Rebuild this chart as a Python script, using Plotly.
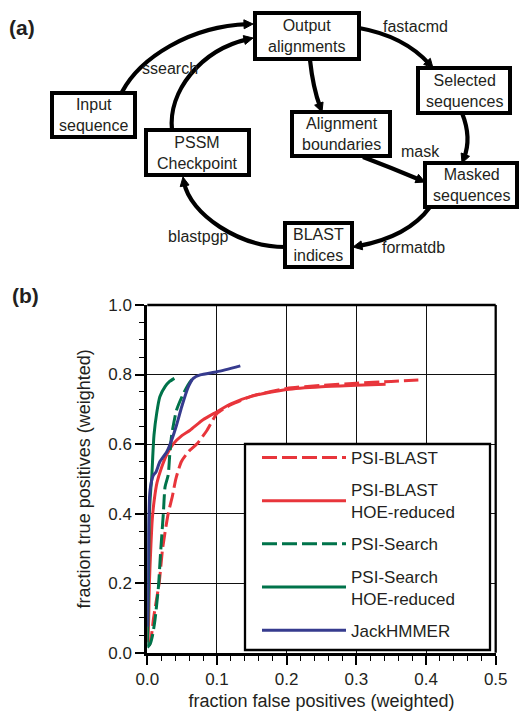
import plotly.graph_objects as go

W, H = 519, 712

# ---------------- data (panel b) ----------------
series_names = ["PSI-BLAST", "PSI-BLAST<br>HOE-reduced", "PSI-Search",
                "PSI-Search<br>HOE-reduced", "JackHMMER"]
series_colors = ["#E8353B", "#E8353B", "#00734A", "#00734A", "#363B8E"]
series_dash = ["15px,5px", "solid", "15px,5px", "solid", "solid"]

psiblast_x = [0.003, 0.006, 0.009, 0.013, 0.017, 0.022, 0.030, 0.036, 0.041, 0.049,
              0.060, 0.071, 0.0855, 0.100, 0.120, 0.150, 0.200, 0.250, 0.300, 0.350, 0.389]
psiblast_y = [0.02, 0.05, 0.10, 0.15, 0.20, 0.30, 0.40, 0.45, 0.50, 0.55,
              0.58, 0.60, 0.639, 0.688, 0.713, 0.738, 0.760, 0.769, 0.775, 0.780, 0.784]

psiblast_hoe_x = [0.001, 0.002, 0.003, 0.005, 0.007, 0.010, 0.014, 0.020, 0.028, 0.037,
                  0.050, 0.0614, 0.080, 0.100, 0.120, 0.150, 0.200, 0.250, 0.300, 0.342]
psiblast_hoe_y = [0.03, 0.10, 0.20, 0.30, 0.38, 0.44, 0.49, 0.53, 0.57, 0.60,
                  0.625, 0.640, 0.670, 0.693, 0.716, 0.738, 0.757, 0.765, 0.769, 0.772]

psisearch_x = [0.000, 0.004, 0.0075, 0.011, 0.016, 0.019, 0.023, 0.0255, 0.030, 0.032,
               0.035, 0.042, 0.052, 0.060, 0.0686]
psisearch_y = [0.015, 0.025, 0.05, 0.094, 0.19, 0.286, 0.40, 0.477, 0.511, 0.564,
               0.626, 0.698, 0.746, 0.775, 0.796]

psisearch_hoe_x = [0.000, 0.001, 0.002, 0.003, 0.005, 0.0063, 0.0078, 0.0096, 0.0135,
                   0.018, 0.0255, 0.032, 0.0389]
psisearch_hoe_y = [0.02, 0.10, 0.25, 0.40, 0.47, 0.50, 0.564, 0.626, 0.689,
                   0.736, 0.765, 0.780, 0.789]

jackhmmer_x = [0.000, 0.001, 0.002, 0.004, 0.0086, 0.0125, 0.018, 0.028, 0.035, 0.042,
               0.0495, 0.059, 0.066, 0.076, 0.100, 0.1335]
jackhmmer_y = [0.075, 0.20, 0.38, 0.468, 0.51, 0.52, 0.549, 0.578, 0.612, 0.655,
               0.708, 0.765, 0.789, 0.799, 0.808, 0.825]

series_x = [psiblast_x, psiblast_hoe_x, psisearch_x, psisearch_hoe_x, jackhmmer_x]
series_y = [psiblast_y, psiblast_hoe_y, psisearch_y, psisearch_hoe_y, jackhmmer_y]

x_ticks = [0.0, 0.1, 0.2, 0.3, 0.4, 0.5]
x_ticklabels = ["0.0", "0.1", "0.2", "0.3", "0.4", "0.5"]
y_ticks = [0.0, 0.2, 0.4, 0.6, 0.8, 1.0]
y_ticklabels = ["0.0", "0.2", "0.4", "0.6", "0.8", "1.0"]

# ---------------- data (panel a diagram) ----------------
box_labels = ["Output<br>alignments", "Input<br>sequence", "PSSM<br>Checkpoint",
              "Alignment<br>boundaries", "Selected<br>sequences", "Masked<br>sequences",
              "BLAST<br>indices"]
edge_labels = ["fastacmd", "ssearch", "mask", "blastpgp", "formatdb"]

FONT = "Liberation Sans, Arial, Helvetica, sans-serif"
TXT = "#231f20"


def px(x):
    return x / W


def py(y):
    return 1 - y / H


fig = go.Figure()
for name, xs, ys, col, dash in zip(series_names, series_x, series_y, series_colors, series_dash):
    fig.add_trace(go.Scatter(x=xs, y=ys, mode="lines", name=name,
                             line=dict(color=col, width=3, dash=dash, shape="spline",
                                       smoothing=0.6),
                             legendgroup=name, showlegend=True))

x0p, x1p = 147.3, 495.7
y0p, y1p = 652.7, 305.0

axis_common = dict(showgrid=True, gridcolor="#111111", gridwidth=1.3,
                   showline=True, linecolor="#000000", linewidth=3,
                   ticks="outside", ticklen=9, tickwidth=1.5, tickcolor="#000000",
                   zeroline=False, mirror=False, automargin=False,
                   tickfont=dict(family=FONT, size=17, color=TXT))

fig.update_xaxes(domain=[px(x0p), px(x1p)], range=[0, 0.5],
                 tickvals=x_ticks, ticktext=x_ticklabels,
                 minor=dict(dtick=0.02, ticks="outside", ticklen=5, tickwidth=1,
                            tickcolor="#000000", showgrid=False),
                 title=dict(text="fraction false positives (weighted)",
                            font=dict(family=FONT, size=18, color=TXT), standoff=7),
                 **axis_common)
fig.update_yaxes(domain=[py(y0p), py(y1p)], range=[0, 1],
                 tickvals=y_ticks, ticktext=y_ticklabels,
                 minor=dict(dtick=0.05, ticks="outside", ticklen=5, tickwidth=1,
                            tickcolor="#000000", showgrid=False),
                 title=dict(text="fraction true positives (weighted)",
                            font=dict(family=FONT, size=18, color=TXT), standoff=13),
                 **axis_common)

shapes = []
ann = []
# top/right frame of plot
shapes.append(dict(type="line", xref="paper", yref="paper", x0=px(x0p), x1=px(x1p),
                   y0=py(y1p), y1=py(y1p), line=dict(color="black", width=2.3)))
shapes.append(dict(type="line", xref="paper", yref="paper", x0=px(x1p), x1=px(x1p),
                   y0=py(y0p), y1=py(y1p), line=dict(color="black", width=2.3)))
# legend frame
shapes.append(dict(type="rect", xref="paper", yref="paper", x0=px(245), x1=px(490),
                   y0=py(650), y1=py(444), fillcolor="white", layer="above",
                   line=dict(color="black", width=2.3)))

# ---------- diagram boxes ----------
box_rects = [(255, 13, 359, 59), (52, 93, 135, 137), (146, 130, 249, 175),
             (292, 112, 390, 156), (418, 68, 510, 113), (425, 163, 517, 207),
             (285, 223, 352, 267)]
for (l, t, r, b), lab in zip(box_rects, box_labels):
    shapes.append(dict(type="rect", xref="paper", yref="paper",
                       x0=px(l), x1=px(r), y0=py(b), y1=py(t),
                       line=dict(color="black", width=4), fillcolor="white", layer="above"))
    ann.append(dict(x=px((l + r) / 2), y=py((t + b) / 2), xref="paper", yref="paper",
                    text=lab, showarrow=False, xanchor="center", yanchor="middle",
                    font=dict(family=FONT, size=16, color=TXT)))

edge_pos = [(415, 27), (170, 68), (420, 152), (198, 236), (413, 248)]
for (x, y), lab in zip(edge_pos, edge_labels):
    ann.append(dict(x=px(x), y=py(y), xref="paper", yref="paper", text=lab,
                    showarrow=False, xanchor="center", yanchor="middle",
                    font=dict(family=FONT, size=16, color=TXT)))

ann.append(dict(x=px(22), y=py(28), xref="paper", yref="paper", text="<b>(a)</b>",
                showarrow=False, xanchor="center", yanchor="middle",
                font=dict(family=FONT, size=21, color=TXT)))
ann.append(dict(x=px(25), y=py(295), xref="paper", yref="paper", text="<b>(b)</b>",
                showarrow=False, xanchor="center", yanchor="middle",
                font=dict(family=FONT, size=21, color=TXT)))

# ---------- diagram arrows (pixel geometry) ----------
arrows = [
    ("C", [(122, 92), (140, 58), (190, 26), (253, 24)]),
    ("C", [(172, 130), (168, 92), (200, 50), (253, 38)]),
    ("Q", [(359, 28), (404, 36), (433, 68)]),
    ("Q", [(310, 60), (313, 88), (322, 112)]),
    ("Q", [(462, 113), (472, 138), (462, 163)]),
    ("Q", [(363, 157), (392, 168), (425, 182)]),
    ("Q", [(430, 207), (408, 237), (353, 247)]),
    ("C", [(285, 247), (240, 247), (190, 215), (183, 177)]),
]


def P(pt):
    return f"{px(pt[0]):.5f},{py(pt[1]):.5f}"


for kind, pts in arrows:
    ex, ey = pts[-1]
    cx, cy = pts[-2]
    dx, dy = ex - cx, ey - cy
    n = (dx * dx + dy * dy) ** 0.5
    ux, uy = dx / n, dy / n
    L, Wd = 9, 4.5
    bx, by = ex - ux * L, ey - uy * L
    pts2 = list(pts)
    pts2[-1] = (ex - ux * 5, ey - uy * 5)
    path = "M" + P(pts2[0]) + " " + kind + " " + " ".join(P(p) for p in pts2[1:])
    shapes.append(dict(type="path", xref="paper", yref="paper", path=path,
                       line=dict(color="black", width=4.2)))
    tri = ("M" + P((ex, ey)) + " L" + P((bx - uy * Wd, by + ux * Wd)) +
           " L" + P((bx + uy * Wd, by - ux * Wd)) + " Z")
    shapes.append(dict(type="path", xref="paper", yref="paper", path=tri,
                       fillcolor="black", line=dict(color="black", width=1)))

fig.update_layout(
    width=W, height=H, margin=dict(l=0, r=0, t=0, b=0, autoexpand=False),
    paper_bgcolor="white", plot_bgcolor="white",
    font=dict(family=FONT, color=TXT),
    shapes=shapes, annotations=ann,
    legend=dict(x=px(257), y=py(440), xanchor="left", yanchor="top",
                bgcolor="rgba(0,0,0,0)", borderwidth=0,
                font=dict(family=FONT, size=17, color=TXT),
                itemwidth=84, tracegroupgap=7, traceorder="grouped"),
)

fig.write_html("out.html", config={"displayModeBar": False},
               post_script="document.body.style.margin='0';document.body.style.overflow='hidden';")
